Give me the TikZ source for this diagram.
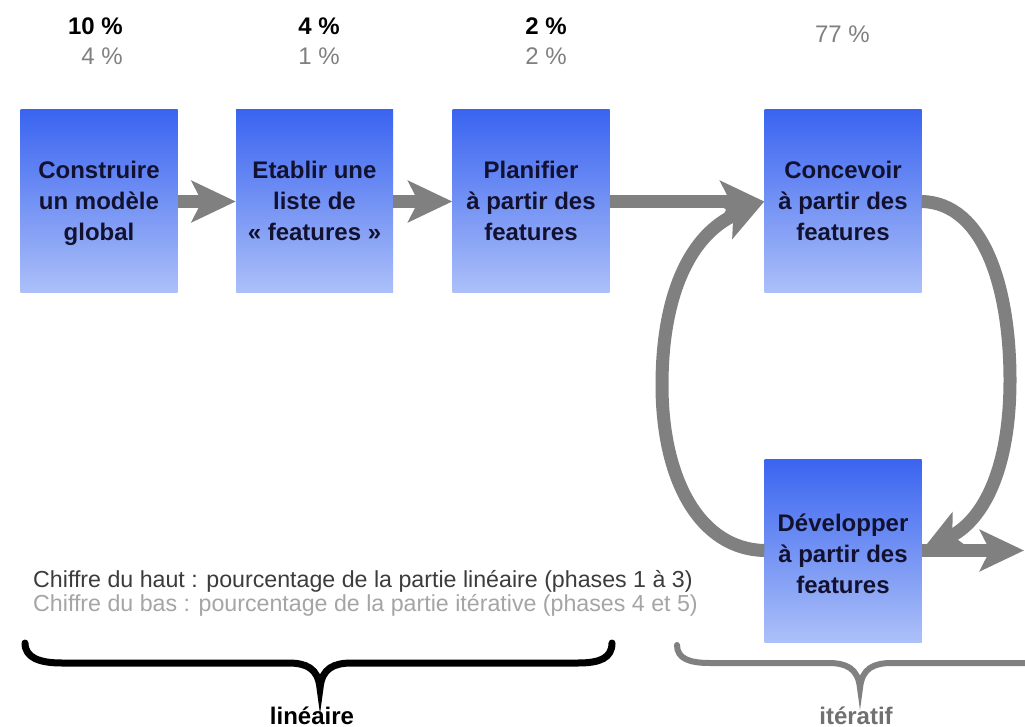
\documentclass[tikz,border=0pt]{standalone}
\usepackage{fontspec}
\setmainfont{Liberation Sans}
\usetikzlibrary{arrows.meta}

\definecolor{boxtop}{RGB}{58,100,240}
\definecolor{boxbot}{RGB}{172,192,248}
\definecolor{boxink}{RGB}{18,18,48}
\definecolor{arrowgray}{RGB}{128,128,128}
\definecolor{lowgray}{RGB}{128,128,128}
\definecolor{legendone}{RGB}{60,60,60}
\definecolor{legendtwo}{RGB}{165,165,165}
\definecolor{itergray}{RGB}{112,112,112}

\begin{document}
\begin{tikzpicture}[x=1pt, y=-1pt,
  phasebox/.style={minimum width=157pt, minimum height=183pt, inner sep=0pt,
    top color=boxtop, bottom color=boxbot, draw=none},
  phasetext/.style={font=\fontsize{24}{31}\selectfont\bfseries, text=boxink,
    align=center, inner sep=0pt},
  pcttop/.style={font=\fontsize{24}{29}\selectfont\bfseries, text=black,
    inner sep=0pt, anchor=base east},
  pctlow/.style={font=\fontsize{24}{29}\selectfont, text=lowgray,
    inner sep=0pt, anchor=base east},
  flow/.style={line width=13pt, draw=arrowgray,
    -{Stealth[length=44pt, width=41pt, inset=10pt]}},
  legend/.style={font=\fontsize{23.2}{25}\selectfont, inner sep=0pt,
    anchor=base west},
  bracelabel/.style={font=\fontsize{24}{29}\selectfont\bfseries, inner sep=0pt,
    anchor=base}]

  % canvas
  \fill[white] (0,0) rectangle (1025,727);
  \useasboundingbox (0,0) rectangle (1025,727);

  % percentages above the phases
  \node[pcttop] (p1a) at (123,35) {10 \%};
  \node[pctlow] (p1b) at (123,65) {4 \%};
  \node[pcttop] (p2a) at (340,35) {4 \%};
  \node[pctlow] (p2b) at (340,65) {1 \%};
  \node[pcttop] (p3a) at (567,35) {2 \%};
  \node[pctlow] (p3b) at (567,65) {2 \%};
  \node[pctlow] (p4) at (870,43) {77 \%};

  % phase boxes
  \node[phasebox] (b1) at (99,201.5) {};
  \node[phasebox] (b2) at (314.5,201.5) {};
  \node[phasebox] (b3) at (531,201.5) {};
  \node[phasebox] (b4) at (843,201.5) {};
  \node[phasebox] (b5) at (843,550.5) {};

  % arrows of the linear part
  \draw[flow] (b1.east) -- (b2.west);
  \draw[flow] (b2.east) -- (b3.west);
  \draw[flow] (b3.east) -- (b4.west);

  % iterative loop between design and build
  \draw[flow] (b5.west) .. controls (700,549) and (662,480) .. (662,385)
                        .. controls (662,295) and (690,235) .. (b4.west);
  \draw[flow] (b4.east) .. controls (985,203) and (1010,290) .. (1010,380)
                        .. controls (1010,475) and (980,522) .. (b5.east);
  \coordinate (out) at (1024,550.5);
  \draw[flow] (b5.east) -- (out);

  % phase labels
  \node[phasetext] (t1) at ([yshift=-2pt]b1.center) {\strut Construire\\un modèle\\global\strut};
  \node[phasetext] (t2) at ([yshift=-2pt]b2.center) {\strut Etablir une\\liste de\\«~features~»\strut};
  \node[phasetext] (t3) at ([yshift=-2pt]b3.center) {\strut Planifier\\à partir des\\features\strut};
  \node[phasetext] (t4) at ([yshift=-2pt]b4.center) {\strut Concevoir\\à partir des\\features\strut};
  \node[phasetext] (t5) at ([yshift=-6pt]b5.center) {\strut Développer\\à partir des\\features\strut};

  % legend
  \node[legend, text=legendone] (l1) at (33,587)
    {Chiffre du haut : pourcentage de la partie linéaire (phases 1 à 3)};
  \node[legend, text=legendtwo] (l2) at (33,611)
    {Chiffre du bas : pourcentage de la partie itérative (phases 4 et 5)};

  % braces
  \draw[line width=7pt, line cap=round, line join=miter, black]
    (25,643) .. controls (25,658) and (40,663) .. (62,663) -- (288,663)
    .. controls (306,663) and (318,668) .. (320,688)
    .. controls (322,668) and (334,663) .. (352,663) -- (578,663)
    .. controls (600,663) and (612,658) .. (612,643);
  \draw[line width=6pt, line cap=round, line join=miter, arrowgray]
    (677,645) .. controls (677,659) and (690,663) .. (710,663) -- (828,663)
    .. controls (846,663) and (858,668) .. (860,688)
    .. controls (862,668) and (874,663) .. (892,663) -- (1040,663);

  \node[bracelabel, text=black] (lin) at (312,724) {linéaire};
  \node[bracelabel, text=itergray] (ite) at (856,724) {itératif};
\end{tikzpicture}
\end{document}
